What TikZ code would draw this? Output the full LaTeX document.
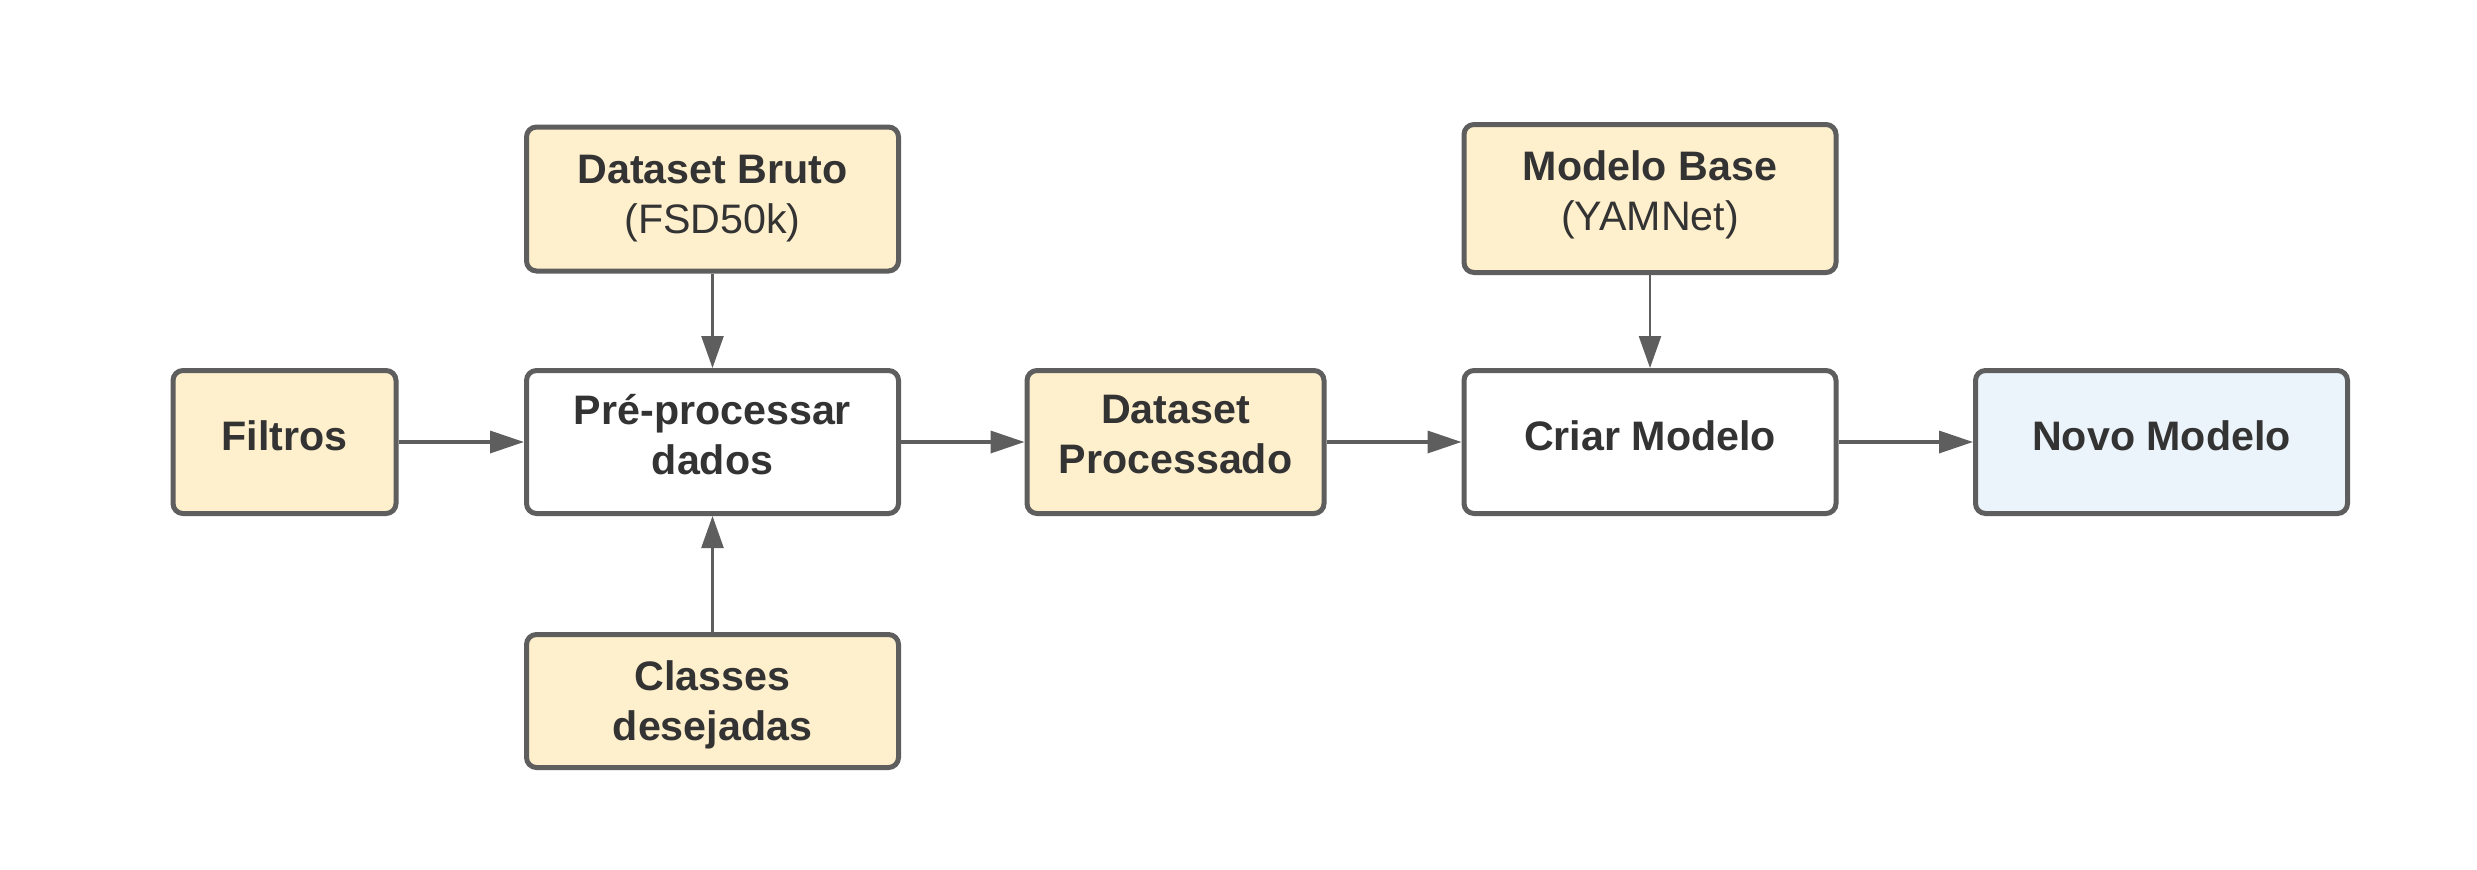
\documentclass[tikz,border=0pt]{standalone}
\usepackage{fontspec}
\setmainfont{Liberation Sans}
\usetikzlibrary{arrows.meta}
\definecolor{edge}{RGB}{94,94,94}
\definecolor{txt}{RGB}{51,51,51}
\definecolor{yel}{RGB}{255,240,205}
\definecolor{blu}{RGB}{235,243,251}
\tikzset{
  box/.style={draw=edge, line width=5pt, rounded corners=10pt, inner sep=0pt},
  yelbox/.style={box, fill=yel},
  whibox/.style={box, fill=white},
  blubox/.style={box, fill=blu},
  lbl/.style={inner sep=0pt, align=center, text=txt, font=\fontsize{41.2}{50}\selectfont\bfseries},
  arr/.style={draw=edge, line width=3.5pt, -{Triangle[length=34pt,width=22pt]}},
  varr/.style={draw=edge, line width=2.5pt, -{Triangle[length=32pt,width=22pt]}},
}
\begin{document}
\begin{tikzpicture}[x=1pt,y=-1pt]
\useasboundingbox[fill=white] (0,0) rectangle (2477,870);
\node[yelbox, minimum width=223pt, minimum height=143pt] (filtros) at (284.5,442) {};
\node[whibox, minimum width=372pt, minimum height=143pt] (pre) at (712.5,442) {};
\node[yelbox, minimum width=372pt, minimum height=144pt] (bruto) at (712.5,199) {};
\node[yelbox, minimum width=372pt, minimum height=133pt] (classes) at (712.5,701) {};
\node[yelbox, minimum width=297pt, minimum height=143pt] (dproc) at (1175.5,442) {};
\node[yelbox, minimum width=372pt, minimum height=148pt] (base) at (1650,198.5) {};
\node[whibox, minimum width=372pt, minimum height=143pt] (criar) at (1650,442) {};
\node[blubox, minimum width=372pt, minimum height=143pt] (novo) at (2161.5,442) {};
\node[lbl] (filtros-t) at ([yshift=6pt]filtros.center) {Filtros};
\node[lbl] (pre-t) at ([yshift=7pt]pre.center) {Pré-processar\\dados};
\node[lbl] (bruto-t) at ([yshift=0pt]bruto.center) {Dataset Bruto\\{\mdseries (FSD50k)}};
\node[lbl] (classes-t) at ([yshift=-4pt]classes.center) {Classes\\desejadas};
\node[lbl] (dproc-t) at ([yshift=7pt]dproc.center) {Dataset\\Processado};
\node[lbl] (base-t) at ([yshift=4pt]base.center) {Modelo Base\\{\mdseries (YAMNet)}};
\node[lbl] (criar-t) at ([yshift=6pt]criar.center) {Criar Modelo};
\node[lbl] (novo-t) at ([yshift=6pt]novo.center) {Novo Modelo};
\draw[arr] (filtros) -- (pre);
\draw[arr] (pre) -- (dproc);
\draw[arr] (dproc) -- (criar);
\draw[arr] (criar) -- (novo);
\draw[varr] (bruto) -- (pre);
\draw[varr] (classes) -- (pre);
\draw[varr] (base) -- (criar);
\end{tikzpicture}
\end{document}
